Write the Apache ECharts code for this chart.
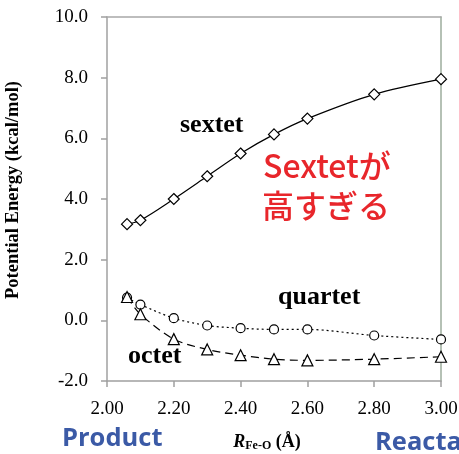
<!DOCTYPE html>
<html><head><meta charset="utf-8">
<script src="https://cdn.jsdelivr.net/npm/echarts@6/dist/echarts.min.js"></script>
<style>html,body{margin:0;padding:0;background:#fff}#c{width:459px;height:454px}</style>
</head><body><div id="c"></div>
<script>
var rValues = [2.06, 2.10, 2.20, 2.30, 2.40, 2.50, 2.60, 2.80, 3.00];
var sextet  = [3.17, 3.30, 4.00, 4.75, 5.50, 6.13, 6.65, 7.45, 7.95];
var quartet = [0.75, 0.52, 0.07, -0.17, -0.26, -0.30, -0.30, -0.50, -0.63];
var octet   = [0.77, 0.20, -0.62, -0.96, -1.15, -1.28, -1.32, -1.28, -1.20];
var seriesNames = ['sextet', 'quartet', 'octet'];

function pairs(v){ return rValues.map(function(x,i){ return [x, v[i]]; }); }
var serif = '"Liberation Serif", "Times New Roman", serif';
var chart = echarts.init(document.getElementById('c'));
chart.setOption({
  animation: false,
  backgroundColor: '#fff',
  grid: {left: 107, right: 18, top: 17, bottom: 73, containLabel: false, outerBoundsMode: 'none'},
  xAxis: [{
    type: 'value', min: 2, max: 3, interval: 0.2,
    axisLine: {onZero: false, lineStyle: {color: '#a0a0a0', width: 1.5}},
    axisTick: {show: true, length: 6, lineStyle: {color: '#a0a0a0', width: 1.5}},
    splitLine: {show: false},
    axisLabel: {color: '#000', fontFamily: serif, fontSize: 19, margin: 19,
      formatter: function(v){ return v.toFixed(2); }},
    name: '{r|R}{s|Fe-O}{p| (Å)}', nameLocation: 'middle', nameGap: 51,
    nameTextStyle: {padding: [0, 14, 0, 0], rich: {
      r: {fontFamily: serif, fontWeight: 'bold', fontStyle: 'italic', fontSize: 18, color: '#000'},
      s: {fontFamily: serif, fontWeight: 'bold', fontSize: 12, color: '#000', padding: [8,0,0,0]},
      p: {fontFamily: serif, fontWeight: 'bold', fontSize: 18, color: '#000'}
    }}
  }, {
    type: 'value', position: 'top', min: 2, max: 3,
    axisLine: {show: true, onZero: false, lineStyle: {color: '#a8a8a8', width: 1.5}},
    axisTick: {show: false}, axisLabel: {show: false}, splitLine: {show: false}
  }],
  yAxis: [{
    type: 'value', min: -2, max: 10, interval: 2,
    axisLine: {show: true, onZero: false, lineStyle: {color: '#a0a0a0', width: 1.5}},
    axisTick: {show: true, length: 6, lineStyle: {color: '#a0a0a0', width: 1.5}},
    splitLine: {show: false},
    axisLabel: {color: '#000', fontFamily: serif, fontSize: 19, margin: 19,
      formatter: function(v){ return v.toFixed(1); }},
    name: 'Potential Energy (kcal/mol)', nameLocation: 'middle', nameGap: 84,
    nameTextStyle: {fontFamily: serif, fontWeight: 'bold', fontSize: 18.5, color: '#000', padding: [0, 0, 0, 18]}
  }, {
    type: 'value', position: 'right', min: -2, max: 10,
    axisLine: {show: true, onZero: false, lineStyle: {color: '#9cad9c', width: 1.5}},
    axisTick: {show: false}, axisLabel: {show: false}, splitLine: {show: false}
  }],
  series: [{
    name: seriesNames[0], type: 'line', data: pairs(sextet), smooth: 0.3,
    symbol: 'diamond', symbolSize: 11,
    lineStyle: {color: '#000', width: 1.2},
    itemStyle: {color: '#fff', borderColor: '#000', borderWidth: 1.2}
  }, {
    name: seriesNames[1], type: 'line', data: pairs(quartet), smooth: 0.3,
    symbol: 'circle', symbolSize: 9,
    lineStyle: {color: '#000', width: 1.2, type: [2, 3]},
    itemStyle: {color: '#fff', borderColor: '#000', borderWidth: 1.2}
  }, {
    name: seriesNames[2], type: 'line', data: pairs(octet), smooth: 0.3,
    symbol: 'triangle', symbolSize: 11,
    lineStyle: {color: '#000', width: 1.2, type: [8, 5]},
    itemStyle: {color: '#fff', borderColor: '#000', borderWidth: 1.2}
  }],
  graphic: [
    {type: 'text', left: 180, top: 112, style: {text: seriesNames[0], font: 'bold 26px ' + serif, fill: '#000'}},
    {type: 'text', left: 278, top: 284, style: {text: seriesNames[1], font: 'bold 26px ' + serif, fill: '#000'}},
    {type: 'text', left: 128, top: 343, style: {text: seriesNames[2], font: 'bold 26px ' + serif, fill: '#000'}},
    {type: 'text', left: 263, top: 150, style: {text: 'Sextetが', font: '500 32px "Noto Sans CJK JP", "Noto Sans", sans-serif', fill: '#e8262b'}},
    {type: 'text', left: 262, top: 190, style: {text: '高すぎる', font: '500 32px "Noto Sans CJK JP", sans-serif', fill: '#e8262b'}},
    {type: 'text', left: 62, top: 426, style: {text: 'Product', font: 'bold 25.5px "Open Sans", "Noto Sans", sans-serif', fill: '#3b5aa6'}},
    {type: 'text', left: 375, top: 430, style: {text: 'Reactant', font: 'bold 25.5px "Open Sans", "Noto Sans", sans-serif', fill: '#3b5aa6'}}
  ]
});
</script></body></html>
